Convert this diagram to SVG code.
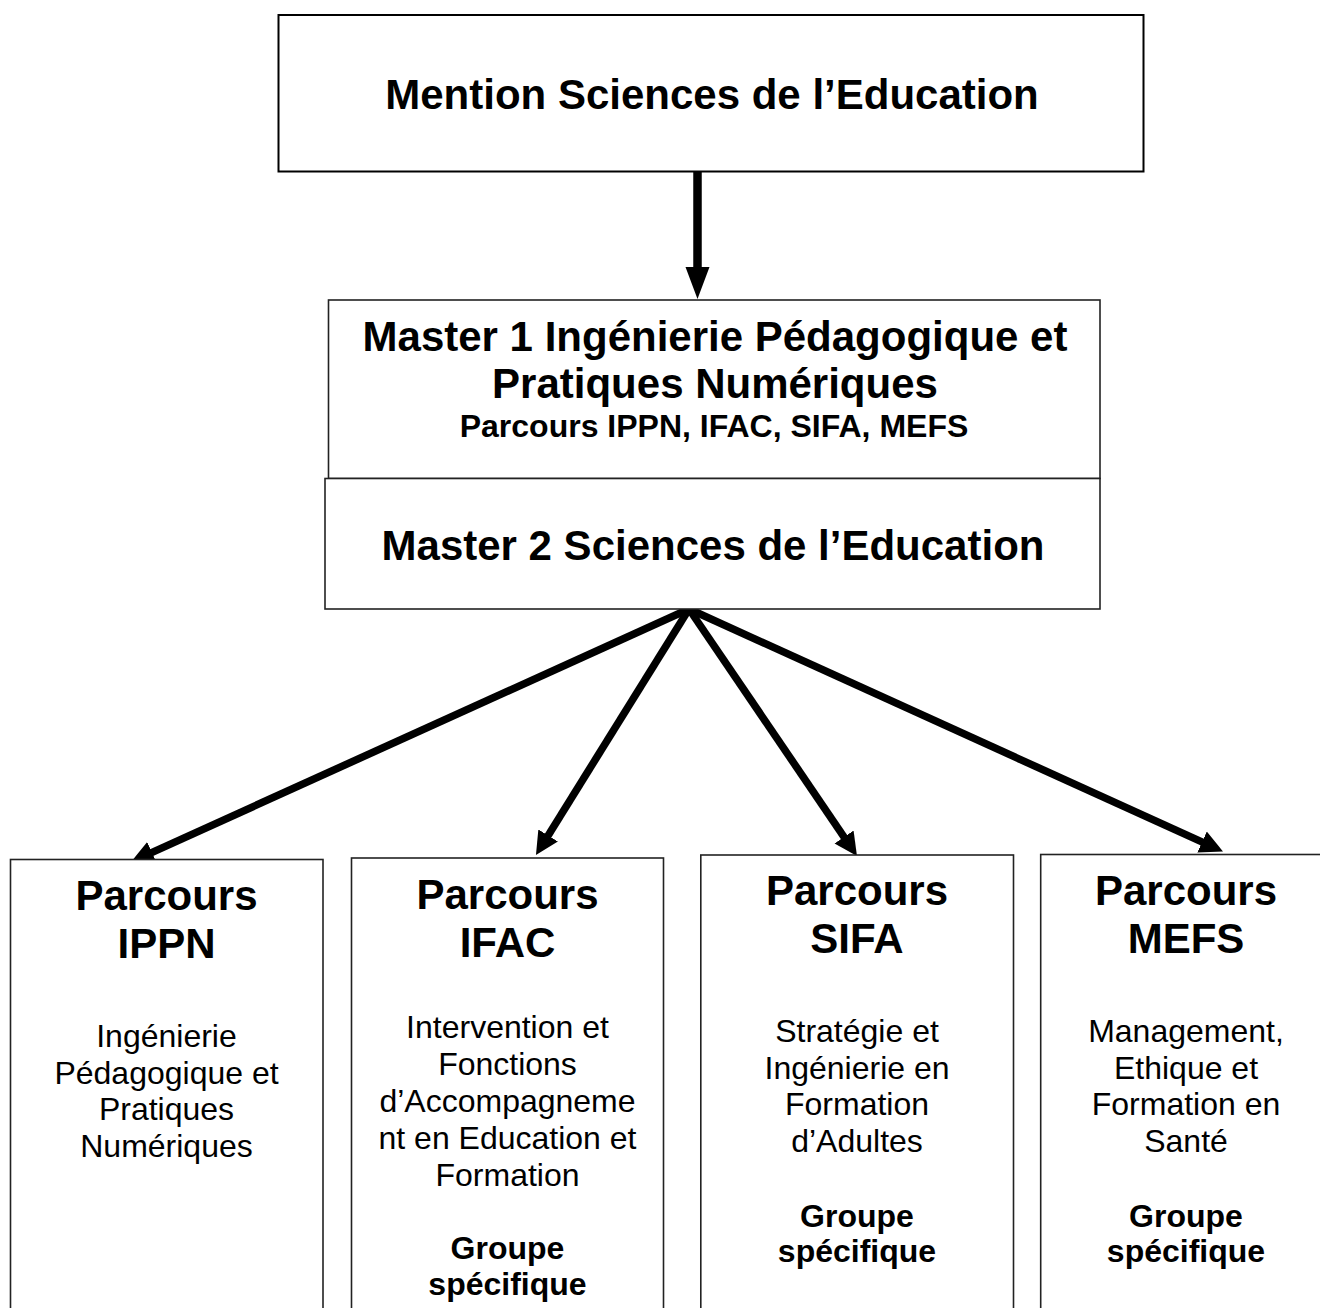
<svg xmlns="http://www.w3.org/2000/svg" width="1320" height="1308" viewBox="0 0 1320 1308">
<style>
.box{fill:#fff;stroke:#222;stroke-width:1.6}
.t{font-family:"Liberation Sans",Arial,sans-serif;text-anchor:middle;fill:#000}
.h{font-size:42px;font-weight:bold}
.s{font-size:32px;font-weight:bold}
.d{font-size:32px}
.c{stroke:#000;stroke-width:7.5;fill:none}
</style>
<defs>
<marker id="ah" markerUnits="userSpaceOnUse" markerWidth="24" markerHeight="24" refX="4" refY="11.5" orient="auto" viewBox="0 0 24 23">
<path d="M0,0 L23,11.5 L0,23 z" fill="#000"/>
</marker>
<marker id="ahv" markerUnits="userSpaceOnUse" markerWidth="33" markerHeight="25" refX="4" refY="12" orient="auto" viewBox="0 0 33 24">
<path d="M0,0 L32,12 L0,24 z" fill="#000"/>
</marker>
</defs>
<rect width="1320" height="1308" fill="#fff"/>
<g id="connectors">
<line class="c" x1="697.5" y1="171" x2="697.5" y2="271" marker-end="url(#ahv)" style="stroke-width:8.5"/>
<line class="c" x1="689" y1="609" x2="148.3" y2="854.1" marker-end="url(#ah)"/>
<line class="c" x1="689" y1="609" x2="546" y2="838.9" marker-end="url(#ah)"/>
<line class="c" x1="689" y1="609" x2="846.3" y2="840.3" marker-end="url(#ah)"/>
<line class="c" x1="689" y1="609" x2="1205.7" y2="843.7" marker-end="url(#ah)"/>
</g>
<g id="mention">
<rect class="box" x="278.5" y="15" width="865" height="156.5" style="stroke:#000;stroke-width:2"/>
<text class="t h" x="712" y="109">Mention Sciences de l’Education</text>
</g>
<g id="master1">
<rect class="box" x="328.5" y="300" width="771.5" height="178.5"/>
<text class="t h" x="715" y="351">Master 1 Ingénierie Pédagogique et</text>
<text class="t h" x="715" y="398">Pratiques Numériques</text>
<text class="t s" x="714" y="437">Parcours IPPN, IFAC, SIFA, MEFS</text>
</g>
<g id="master2">
<rect class="box" x="325" y="478.5" width="775" height="130.5"/>
<text class="t h" x="713" y="560">Master 2 Sciences de l’Education</text>
</g>
<g id="ippn">
<rect class="box" x="10.5" y="859.5" width="312.5" height="470"/>
<text class="t h" x="166.5" y="910">Parcours</text>
<text class="t h" x="166.5" y="958">IPPN</text>
<text class="t d" x="166.5" y="1046.5">Ingénierie</text>
<text class="t d" x="166.5" y="1083.5">Pédagogique et</text>
<text class="t d" x="166.5" y="1120">Pratiques</text>
<text class="t d" x="166.5" y="1156.5">Numériques</text>
</g>
<g id="ifac">
<rect class="box" x="351.5" y="858" width="312" height="470"/>
<text class="t h" x="507.5" y="908.5">Parcours</text>
<text class="t h" x="507.5" y="956.5">IFAC</text>
<text class="t d" x="507.5" y="1038">Intervention et</text>
<text class="t d" x="507.5" y="1075">Fonctions</text>
<text class="t d" x="507.5" y="1112">d’Accompagneme</text>
<text class="t d" x="507.5" y="1148.5">nt en Education et</text>
<text class="t d" x="507.5" y="1186">Formation</text>
<text class="t s" x="507.5" y="1258.5">Groupe</text>
<text class="t s" x="507.5" y="1295">spécifique</text>
</g>
<g id="sifa">
<rect class="box" x="700.8" y="855" width="312.7" height="470"/>
<text class="t h" x="857" y="904.5">Parcours</text>
<text class="t h" x="857" y="953">SIFA</text>
<text class="t d" x="857" y="1041.5">Stratégie et</text>
<text class="t d" x="857" y="1078.5">Ingénierie en</text>
<text class="t d" x="857" y="1115">Formation</text>
<text class="t d" x="857" y="1152">d’Adultes</text>
<text class="t s" x="857" y="1227">Groupe</text>
<text class="t s" x="857" y="1262">spécifique</text>
</g>
<g id="mefs">
<rect class="box" x="1040.7" y="854.5" width="312.7" height="470"/>
<text class="t h" x="1186" y="904.5">Parcours</text>
<text class="t h" x="1186" y="953">MEFS</text>
<text class="t d" x="1186" y="1041.5">Management,</text>
<text class="t d" x="1186" y="1078.5">Ethique et</text>
<text class="t d" x="1186" y="1115">Formation en</text>
<text class="t d" x="1186" y="1152">Santé</text>
<text class="t s" x="1186" y="1227">Groupe</text>
<text class="t s" x="1186" y="1262">spécifique</text>
</g>
</svg>
